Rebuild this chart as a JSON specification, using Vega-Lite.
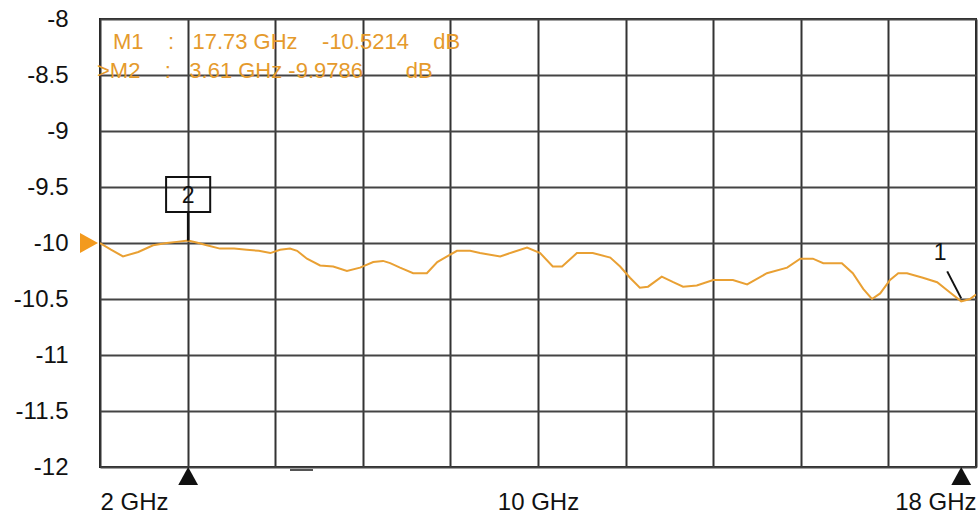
{
  "$schema": "https://vega.github.io/schema/vega-lite/v6.json",
  "width": 876,
  "height": 448,
  "autosize": {"type": "none"},
  "padding": {"left": 100, "top": 19, "right": 4, "bottom": 52},
  "background": "white",
  "config": {"view": {"stroke": "#222", "strokeWidth": 2}, "font": "Liberation Sans"},
  "datasets": {
    "trace": [
      {"freq": 2.00, "dB": -10.00}, {"freq": 2.20, "dB": -10.06}, {"freq": 2.42, "dB": -10.12},
      {"freq": 2.70, "dB": -10.08}, {"freq": 2.97, "dB": -10.02}, {"freq": 3.22, "dB": -10.00},
      {"freq": 3.40, "dB": -9.99}, {"freq": 3.61, "dB": -9.9786}, {"freq": 3.80, "dB": -10.00},
      {"freq": 3.95, "dB": -10.02}, {"freq": 4.19, "dB": -10.05}, {"freq": 4.45, "dB": -10.05},
      {"freq": 4.68, "dB": -10.06}, {"freq": 4.90, "dB": -10.07}, {"freq": 5.11, "dB": -10.09},
      {"freq": 5.29, "dB": -10.06}, {"freq": 5.47, "dB": -10.05}, {"freq": 5.60, "dB": -10.07},
      {"freq": 5.78, "dB": -10.14}, {"freq": 6.02, "dB": -10.20}, {"freq": 6.26, "dB": -10.21},
      {"freq": 6.51, "dB": -10.25}, {"freq": 6.75, "dB": -10.22}, {"freq": 6.99, "dB": -10.17},
      {"freq": 7.17, "dB": -10.16}, {"freq": 7.30, "dB": -10.18}, {"freq": 7.48, "dB": -10.22},
      {"freq": 7.72, "dB": -10.27}, {"freq": 7.97, "dB": -10.27}, {"freq": 8.16, "dB": -10.17},
      {"freq": 8.34, "dB": -10.12}, {"freq": 8.52, "dB": -10.07}, {"freq": 8.76, "dB": -10.07},
      {"freq": 8.94, "dB": -10.09}, {"freq": 9.31, "dB": -10.12}, {"freq": 9.55, "dB": -10.08},
      {"freq": 9.80, "dB": -10.04}, {"freq": 10.04, "dB": -10.09}, {"freq": 10.27, "dB": -10.21},
      {"freq": 10.44, "dB": -10.21}, {"freq": 10.71, "dB": -10.09}, {"freq": 11.00, "dB": -10.09},
      {"freq": 11.32, "dB": -10.13}, {"freq": 11.50, "dB": -10.21}, {"freq": 11.68, "dB": -10.31},
      {"freq": 11.86, "dB": -10.40}, {"freq": 12.01, "dB": -10.39}, {"freq": 12.26, "dB": -10.30},
      {"freq": 12.47, "dB": -10.35}, {"freq": 12.65, "dB": -10.39}, {"freq": 12.90, "dB": -10.38},
      {"freq": 13.20, "dB": -10.33}, {"freq": 13.56, "dB": -10.33}, {"freq": 13.82, "dB": -10.37},
      {"freq": 14.18, "dB": -10.27}, {"freq": 14.55, "dB": -10.22}, {"freq": 14.79, "dB": -10.14},
      {"freq": 15.02, "dB": -10.14}, {"freq": 15.21, "dB": -10.18}, {"freq": 15.55, "dB": -10.18},
      {"freq": 15.75, "dB": -10.27}, {"freq": 15.94, "dB": -10.41}, {"freq": 16.10, "dB": -10.50},
      {"freq": 16.25, "dB": -10.45}, {"freq": 16.43, "dB": -10.33}, {"freq": 16.58, "dB": -10.27},
      {"freq": 16.74, "dB": -10.27}, {"freq": 17.03, "dB": -10.31}, {"freq": 17.29, "dB": -10.35},
      {"freq": 17.52, "dB": -10.44}, {"freq": 17.73, "dB": -10.5214}, {"freq": 17.89, "dB": -10.50},
      {"freq": 18.00, "dB": -10.46}
    ],
    "markers": [
      {"marker": "M1", "num": "1", "freq": 17.73, "level": -10.5214,
       "readout": "M1\u00a0\u00a0\u00a0\u00a0:\u00a0\u00a0\u00a017.73 GHz\u00a0\u00a0\u00a0\u00a0-10.5214\u00a0\u00a0\u00a0\u00a0dB"},
      {"marker": "M2", "num": "2", "freq": 3.61, "level": -9.9786,
       "readout": ">M2\u00a0\u00a0\u00a0\u00a0:\u00a0\u00a0\u00a03.61 GHz\u00a0-9.9786\u00a0\u00a0\u00a0\u00a0\u00a0\u00a0\u00a0dB"}
    ]
  },
  "layer": [
    {
      "data": {"name": "trace"},
      "mark": {"type": "line", "color": "#E9A033", "strokeWidth": 2, "clip": true},
      "encoding": {
        "x": {
          "field": "freq", "type": "quantitative",
          "scale": {"domain": [2, 18], "nice": false, "zero": false},
          "axis": {
            "values": [2, 3.6, 5.2, 6.8, 8.4, 10, 11.6, 13.2, 14.8, 16.4, 18],
            "labelExpr": "datum.value == 2 ? '2 GHz' : (datum.value == 10 ? '10 GHz' : (datum.value == 18 ? '18 GHz' : ''))",
            "title": null, "grid": true, "gridColor": "#333", "gridWidth": 2, "gridOpacity": 1,
            "ticks": false, "domain": false, "labelPadding": 23, "labelFontSize": 24,
            "labelColor": "#111", "labelFont": "Liberation Sans", "labelFlush": true, "labelOverlap": false
          }
        },
        "y": {
          "field": "dB", "type": "quantitative",
          "scale": {"domain": [-12, -8], "nice": false, "zero": false},
          "axis": {
            "values": [-12, -11.5, -11, -10.5, -10, -9.5, -9, -8.5, -8],
            "labelExpr": "datum.value + ''",
            "title": null, "grid": true, "gridColor": "#444", "gridWidth": 2, "gridOpacity": 1,
            "ticks": false, "domain": false, "labelPadding": 32, "labelFontSize": 24,
            "labelColor": "#111", "labelFont": "Liberation Sans", "labelOverlap": false
          }
        }
      }
    },
    {
      "data": {"name": "markers"},
      "transform": [{"filter": "datum.marker == 'M1'"}],
      "mark": {"type": "text", "align": "left", "baseline": "alphabetic", "font": "Liberation Sans", "fontSize": 22, "color": "#E59A2C"},
      "encoding": {"x": {"datum": 2.237}, "y": {"datum": -8.268}, "text": {"field": "readout"}}
    },
    {
      "data": {"name": "markers"},
      "transform": [{"filter": "datum.marker == 'M2'"}],
      "mark": {"type": "text", "align": "left", "baseline": "alphabetic", "font": "Liberation Sans", "fontSize": 22, "color": "#E59A2C"},
      "encoding": {"x": {"datum": 1.945}, "y": {"datum": -8.527}, "text": {"field": "readout"}}
    },
    {
      "data": {"name": "markers"},
      "transform": [{"filter": "datum.marker == 'M2'"}],
      "mark": {"type": "rule", "color": "#111", "strokeWidth": 2.5, "y2Offset": -29},
      "encoding": {"x": {"field": "freq", "type": "quantitative"}, "y": {"field": "level", "type": "quantitative"}, "y2": {"field": "level"}}
    },
    {
      "data": {"name": "markers"},
      "transform": [{"filter": "datum.marker == 'M2'"}],
      "mark": {"type": "point", "shape": "M-1.26,-1H1.26V1H-1.26Z", "size": 1225, "filled": false, "stroke": "#111", "strokeWidth": 2, "opacity": 1, "yOffset": -46},
      "encoding": {"x": {"field": "freq", "type": "quantitative"}, "y": {"field": "level", "type": "quantitative"}}
    },
    {
      "data": {"name": "markers"},
      "transform": [{"filter": "datum.marker == 'M2'"}],
      "mark": {"type": "text", "align": "center", "baseline": "middle", "font": "Liberation Sans", "fontSize": 23, "color": "#111", "yOffset": -45},
      "encoding": {"x": {"field": "freq", "type": "quantitative"}, "y": {"field": "level", "type": "quantitative"}, "text": {"field": "num"}}
    },
    {
      "data": {"name": "markers"},
      "transform": [{"filter": "datum.marker == 'M1'"}],
      "mark": {"type": "text", "align": "center", "baseline": "middle", "font": "Liberation Sans", "fontSize": 23, "color": "#111", "xOffset": -21, "yOffset": -48},
      "encoding": {"x": {"field": "freq", "type": "quantitative"}, "y": {"field": "level", "type": "quantitative"}, "text": {"field": "num"}}
    },
    {
      "data": {"name": "markers"},
      "transform": [{"filter": "datum.marker == 'M1'"}],
      "mark": {"type": "rule", "color": "#111", "strokeWidth": 2, "xOffset": -14, "yOffset": -30, "x2Offset": 0, "y2Offset": -3},
      "encoding": {"x": {"field": "freq", "type": "quantitative"}, "y": {"field": "level", "type": "quantitative"}, "x2": {"field": "freq"}, "y2": {"field": "level"}}
    },
    {
      "data": {"name": "markers"},
      "mark": {"type": "point", "shape": "M0,-1L1.1,1L-1.1,1Z", "size": 324, "filled": true, "color": "#111", "opacity": 1, "yOffset": 9},
      "encoding": {"x": {"field": "freq", "type": "quantitative"}, "y": {"datum": -12}}
    },
    {
      "data": {"values": [{}]},
      "mark": {"type": "rule", "color": "#555", "strokeWidth": 2, "yOffset": 3},
      "encoding": {"x": {"datum": 5.47}, "x2": {"datum": 5.89}, "y": {"datum": -12}}
    },
    {
      "data": {"values": [{}]},
      "mark": {"type": "point", "shape": "M1,0L-1,-1.1L-1,1.1Z", "size": 324, "filled": true, "color": "#F39A1E", "opacity": 1, "xOffset": -11},
      "encoding": {"x": {"datum": 2}, "y": {"datum": -10}}
    }
  ]
}
